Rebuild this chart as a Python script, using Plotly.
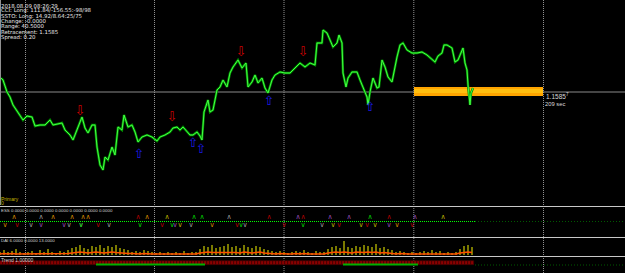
import plotly.graph_objects as go

W, H = 625, 273

# ---------------- data ----------------
bar_idx = [1, 3, 7, 10, 13, 18, 23, 27, 32, 35, 40, 45, 50, 53, 58, 62, 65, 70, 73, 77,
           80, 82, 85, 88, 92, 95, 97, 100, 103, 105, 108, 112, 115, 118, 122, 124, 128, 132, 135, 138,
           142, 147, 152, 157, 160, 165, 170, 173, 177, 180, 183, 187, 190, 193, 197, 200, 202, 204, 208, 210,
           213, 217, 220, 223, 227, 230, 233, 238, 242, 246, 248, 252, 255, 258, 262, 265, 268, 272, 275, 280,
           285, 290, 295, 300, 305, 310, 315, 317, 322, 323, 327, 330, 333, 337, 339, 342, 343, 346, 348, 352,
           357, 360, 363, 367, 368, 370, 373, 377, 379, 382, 385, 388, 392, 395, 397, 400, 403, 407, 412, 417,
           422, 427, 432, 435, 438, 442, 444, 447, 452, 455, 458, 463, 465, 467, 468, 470, 471, 473]
close = [1.15878, 1.15874, 1.15850, 1.15840, 1.15824, 1.15810, 1.15794, 1.15802, 1.15800, 1.15782,
         1.15784, 1.15784, 1.15794, 1.15784, 1.15786, 1.15788, 1.15774, 1.15764, 1.15754, 1.15774,
         1.15790, 1.15800, 1.15778, 1.15768, 1.15784, 1.15784, 1.15740, 1.15704, 1.15694, 1.15720,
         1.15714, 1.15740, 1.15724, 1.15780, 1.15774, 1.15804, 1.15780, 1.15784, 1.15770, 1.15750,
         1.15760, 1.15764, 1.15760, 1.15752, 1.15760, 1.15764, 1.15770, 1.15778, 1.15780, 1.15774,
         1.15780, 1.15772, 1.15764, 1.15764, 1.15770, 1.15762, 1.15754, 1.15810, 1.15834, 1.15810,
         1.15814, 1.15854, 1.15860, 1.15874, 1.15860, 1.15888, 1.15900, 1.15914, 1.15898, 1.15908,
         1.15860, 1.15870, 1.15884, 1.15868, 1.15878, 1.15858, 1.15848, 1.15874, 1.15884, 1.15890,
         1.15888, 1.15888, 1.15898, 1.15908, 1.15900, 1.15908, 1.15904, 1.15948, 1.15948, 1.15974,
         1.15968, 1.15954, 1.15940, 1.15948, 1.15964, 1.15948, 1.15888, 1.15860, 1.15878, 1.15890,
         1.15890, 1.15874, 1.15860, 1.15840, 1.15824, 1.15850, 1.15878, 1.15858, 1.15860, 1.15914,
         1.15900, 1.15880, 1.15870, 1.15904, 1.15920, 1.15944, 1.15948, 1.15934, 1.15928, 1.15928,
         1.15930, 1.15924, 1.15914, 1.15910, 1.15922, 1.15928, 1.15944, 1.15944, 1.15938, 1.15910,
         1.15914, 1.15938, 1.15908, 1.15894, 1.15864, 1.15824, 1.15848, 1.15858]

sell_idx = [80, 172, 241, 303]
sell_price = [1.15810, 1.15798, 1.15928, 1.15928]
buy_idx = [139, 193, 201, 269, 370]
buy_price = [1.15724, 1.15746, 1.15734, 1.15830, 1.15818]

bid_price = 1.1585
zone_start, zone_end = 414, 543
zone_outer = (1.15842, 1.15860)
zone_inner = (1.15848, 1.15856)
day_separators = [25.5, 154.5, 284, 413.8, 543.5]

info_lines = ["2018.08.09 08:26:29",
              "CCI: Long: 111.84/-156.55:-98/98",
              "SSTO: Long: 14.92/8.64:25/75",
              "Change: -0.0000",
              "Range: 40.5000",
              "Retracement: 1.1585",
              "Spread: 0.20"]

# ESS signals
ess_level = 0.0
ess_x = [5, 14, 17, 31, 41, 41, 53, 64, 69, 72, 81, 81, 83, 88, 98, 109, 138, 140, 147, 162,
         167, 172, 175, 180, 191, 194, 202, 212, 229, 237, 241, 245, 269, 284, 298, 303, 303, 322, 330, 333,
         339, 349, 361, 367, 370, 375, 389, 389, 397, 412, 415, 443]
ess_dir = [-1, 1, -1, -1, 1, -1, 1, -1, -1, 1, -1, -1, 1, 1, -1, -1, 1, -1, 1, -1,
           1, -1, -1, -1, -1, 1, 1, -1, 1, -1, -1, -1, 1, -1, 1, 1, -1, -1, 1, -1,
           -1, 1, -1, -1, 1, -1, 1, -1, -1, -1, 1, 1]
ess_kind = ["orange", "orange", "red", "gray", "gray", "purple", "orange", "purple", "gray", "orange",
            "green", "gray", "orange", "orange", "red", "gray", "red", "green", "orange", "red",
            "yellow", "green", "purple", "yellow", "gray", "green", "green", "orange", "gray", "red",
            "green", "gray", "red", "red", "purple", "red", "green", "gray", "purple", "yellow",
            "red", "purple", "yellow", "red", "green", "yellow", "red", "purple", "orange", "red",
            "purple", "yellow"]

# DAI histogram
dai_x = list(range(0, 473, 4))
dai_hist = [3, 5, 3, 4, 6, 3, 2, 3, 4, 2, 5, 3, 6, 3, 2, 4, 3, 5,
            7, 8, 10, 7, 6, 9, 8, 10, 7, 9, 8, 10, 7, 6, 5,
            3, 4, 3, 5, 4, 3, 2, 3, 2, 3, 2, 3, 2, 4, 2, 3, 3,
            6, 9, 8, 10, 7, 8, 9, 11, 8, 9, 7, 10, 8, 7, 9, 8, 6, 5,
            4, 3, 4, 3, 2, 3, 4, 3, 5, 3, 2, 4, 3, 3,
            6, 8, 9, 7, 14, 8, 7, 9, 8, 10, 9, 8, 11, 7, 8, 6, 5,
            3, 4, 3, 2, 3, 2, 3, 4, 3, 5, 3, 4, 2, 3, 2, 3,
            6, 9, 10, 8]
dai_line = [1, 1.5, 1, 1.5, 1, 1, 1, 1.5, 1, 1, 1.5, 1, 1.5, 1, 1, 1.5, 1, 1.5,
            2, 2.5, 3, 2.5, 2, 2.5, 3, 2.5, 2, 2.5, 3, 2.5, 2, 2, 1.5,
            1.5, 1, 1, 1.5, 1, 1, 1, 1, 1, 1, 1, 1, 1, 1.5, 1, 1, 1,
            2, 2.5, 3, 2.5, 2.5, 3, 2.5, 3, 2.5, 2.5, 2, 3, 2.5, 2, 2.5, 3, 2, 1.5,
            1.5, 1, 1.5, 1, 1, 1, 1.5, 1, 1.5, 1, 1, 1.5, 1, 1,
            2, 2.5, 3, 2.5, 3, 2.5, 2, 3, 2.5, 2.5, 3, 2.5, 3, 2, 2.5, 2, 1.5,
            1, 1.5, 1, 1, 1, 1, 1, 1.5, 1, 1.5, 1, 1, 1, 1, 1, 1,
            2, 2.5, 3, 2.5]

# Trend
trend_x = list(range(1, 475, 3))
trend_state = [1.0] * len(trend_x)
trend_up_periods = [(96, 205), (343, 418)]

# ---------------- figure ----------------
def pdom(top_px, bot_px):
    return [1 - bot_px / H, 1 - top_px / H]

fig = go.Figure()

# main price
fig.add_trace(go.Scatter(x=bar_idx, y=close, mode="lines",
                         line=dict(color="#008c00", width=2.4), hoverinfo="skip", yaxis="y"))
fig.add_trace(go.Scatter(x=bar_idx, y=close, mode="lines",
                         line=dict(color="#44ff44", width=1.0), hoverinfo="skip", yaxis="y"))
fig.add_trace(go.Scatter(x=sell_idx, y=sell_price, mode="text", text=["⇩"] * len(sell_idx),
                         textfont=dict(color="#d00000", size=13, family="DejaVu Sans"), yaxis="y"))
fig.add_trace(go.Scatter(x=buy_idx, y=buy_price, mode="text", text=["⇧"] * len(buy_idx),
                         textfont=dict(color="#1a1ae0", size=13, family="DejaVu Sans"), yaxis="y"))

# ESS
fig.add_trace(go.Scatter(x=[0, 475], y=[ess_level, ess_level], mode="lines",
                         line=dict(color="#00ff00", width=1, dash="1px,1px"), yaxis="y2"))
ess_colors = {"orange": "#d08a00", "red": "#b00000", "gray": "#9a9a9a", "purple": "#9048b0",
              "green": "#00d000", "yellow": "#b8b000"}
for kind, col in ess_colors.items():
    for d, glyph in ((1, "∧"), (-1, "∨")):
        xs = [x for x, dd, k in zip(ess_x, ess_dir, ess_kind) if dd == d and k == kind]
        if not xs:
            continue
        fig.add_trace(go.Scatter(x=xs, y=[0.28 * d] * len(xs), mode="text", text=[glyph] * len(xs),
                                 textfont=dict(color=col, size=7, family="DejaVu Sans"), yaxis="y2"))

# DAI
fig.add_trace(go.Bar(x=dai_x, y=dai_hist, width=2.2, marker=dict(color="#7a7a00", line=dict(width=0)),
                     yaxis="y3"))
fig.add_trace(go.Scatter(x=dai_x, y=dai_line, mode="lines", line=dict(color="#ff5000", width=1.4),
                         yaxis="y3"))

# Trend
fig.add_trace(go.Bar(x=trend_x, y=[4 * v for v in trend_state], base=8, width=3,
                     marker=dict(color="#8a0000", line=dict(color="#3a0000", width=0.6)), yaxis="y4"))
for a, b in trend_up_periods:
    fig.add_trace(go.Scatter(x=[a, b], y=[8.4, 8.4], mode="lines", line=dict(color="#00b000", width=2),
                             yaxis="y4"))

shapes = []
# zone
shapes.append(dict(type="rect", xref="x", yref="y", x0=zone_start, x1=zone_end, y0=zone_outer[0],
                   y1=zone_outer[1], fillcolor="#ffa500", line=dict(width=0), layer="below"))
shapes.append(dict(type="rect", xref="x", yref="y", x0=zone_start, x1=zone_end, y0=zone_inner[0],
                   y1=zone_inner[1], fillcolor="#ffbf10", line=dict(width=0), layer="below"))
# bid line
shapes.append(dict(type="line", xref="paper", yref="y", x0=0, x1=1, y0=bid_price, y1=bid_price,
                   line=dict(color="#8a8a8a", width=1), layer="below"))
# day separators
for s in day_separators:
    shapes.append(dict(type="line", xref="x", yref="paper", x0=s, x1=s, y0=0, y1=1,
                       line=dict(color="#909090", width=1, dash="1px,1px"), layer="below"))
# left border
shapes.append(dict(type="line", xref="paper", yref="paper", x0=0.0008, x1=0.0008, y0=1 - 205 / H, y1=1,
                   line=dict(color="#909090", width=1)))
# window separators
for ypx in (206.5, 237.5, 256.5):
    shapes.append(dict(type="line", xref="paper", yref="paper", x0=0, x1=1, y0=1 - ypx / H, y1=1 - ypx / H,
                       line=dict(color="#c8c8c8", width=1)))
# future dotted indicator lines
shapes.append(dict(type="line", xref="x", yref="y2", x0=475, x1=625, y0=0, y1=0,
                   line=dict(color="#005a00", width=1, dash="1px,2px")))
shapes.append(dict(type="line", xref="x", yref="y4", x0=475, x1=625, y0=8, y1=8,
                   line=dict(color="#005a00", width=1, dash="1px,2px")))

annotations = []
def label(text, xpx, ypx, size, color, family="Liberation Sans"):
    annotations.append(dict(text=text, x=xpx / W, y=1 - ypx / H, xref="paper", yref="paper",
                            xanchor="left", yanchor="middle", showarrow=False, borderpad=0,
                            font=dict(family=family, size=size, color=color)))

for i, t in enumerate(info_lines):
    label(t, 0, 5.5 + 5.3 * i, 5.4, "#e6e6e6", "DejaVu Sans")
label("1.1585<sup>7</sup>", 545, 96, 6.5, "#d8d8d8")
label("209 sec", 544, 103.5, 5.8, "#d8d8d8")
label("Primary", 0, 198.5, 5, "#c8b400")
label("0", 0, 203, 5, "#c8b400")
label("ESS 0.0000 0.0000 0.0000 0.0000 0.0000 0.0000 0.0000", 0, 210.5, 4.4, "#d0d0d0")
label("DAI 6.0000 0.0000 13.0000", 0, 240, 4.4, "#d0d0d0")
label("Trend 1.00000", 0, 259.5, 5, "#d0d0d0")

fig.update_layout(
    width=W, height=H, margin=dict(l=0, r=0, t=0, b=0),
    paper_bgcolor="black", plot_bgcolor="black", showlegend=False, bargap=0,
    xaxis=dict(range=[0, W], visible=False, fixedrange=True),
    yaxis=dict(domain=pdom(0, 205), range=[1.15624, 1.16034], visible=False),
    yaxis2=dict(domain=pdom(207, 236), range=[-1, 1], visible=False, anchor="x"),
    yaxis3=dict(domain=pdom(238, 255), range=[0, 17], visible=False, anchor="x"),
    yaxis4=dict(domain=pdom(257, 273), range=[0, 16], visible=False, anchor="x"),
    shapes=shapes, annotations=annotations,
)

fig.write_html("out.html")
